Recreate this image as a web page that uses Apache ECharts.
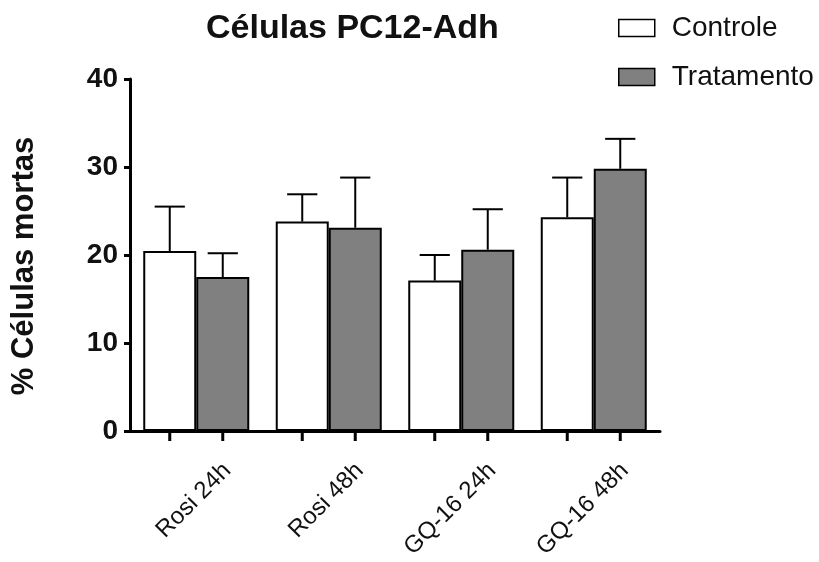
<!DOCTYPE html>
<html>
<head>
<meta charset="utf-8">
<script src="https://cdn.jsdelivr.net/npm/echarts@6/dist/echarts.min.js"></script>
<style>html,body{margin:0;padding:0;background:#fff}#c{width:819px;height:562px}</style>
</head>
<body>
<div id="c"></div>
<script>
var categories = ['Rosi 24h', 'Rosi 48h', 'GQ-16 24h', 'GQ-16 48h'];
var seriesNames = ['Controle', 'Tratamento'];
var controleMean = [20.45, 23.8, 17.1, 24.3];
var controleTop = [25.5, 26.9, 20.0, 28.8];
var tratamentoMean = [17.5, 23.1, 20.6, 29.8];
var tratamentoTop = [20.2, 28.8, 25.2, 33.2];
var yTicks = [0, 10, 20, 30, 40];

var FONT = '"Liberation Sans", Arial, sans-serif';
var GAP = 0.2;

var errData = [];
for (var i = 0; i < categories.length; i++) {
  errData.push([i, controleMean[i], controleTop[i], 0]);
  errData.push([i, tratamentoMean[i], tratamentoTop[i], 1]);
}

function renderErr(params, api) {
  var cat = api.value(0), mean = api.value(1), top = api.value(2), s = api.value(3);
  var band = api.size([1, 0])[0];
  var barW = band * (1 - GAP) / 2;
  var cx = api.coord([cat, 0])[0] + (s === 0 ? -barW / 2 : barW / 2);
  var y0 = api.coord([cat, 0])[1];
  var yM = api.coord([cat, mean])[1];
  var yT = api.coord([cat, top])[1];
  var cap = barW * 0.57;
  var st = {stroke: '#000', lineWidth: 2};
  return {
    type: 'group',
    children: [
      {type: 'line', shape: {x1: cx, y1: yM, x2: cx, y2: yT}, style: st},
      {type: 'line', shape: {x1: cx - cap / 2, y1: yT, x2: cx + cap / 2, y2: yT}, style: st},
      {type: 'line', shape: {x1: cx, y1: y0, x2: cx, y2: y0 + 10}, style: {stroke: '#000', lineWidth: 3}}
    ]
  };
}

var chart = echarts.init(document.getElementById('c'), null, {renderer: 'canvas'});
chart.setOption({
  animation: false,
  backgroundColor: '#fff',
  title: {
    text: 'Células PC12-Adh',
    left: 201, top: 7,
    textStyle: {fontFamily: FONT, fontSize: 34, fontWeight: 'bold', color: '#111'}
  },
  legend: {
    orient: 'vertical',
    left: 613, top: 9,
    icon: 'rect',
    itemWidth: 36, itemHeight: 17, itemGap: 21,
    data: seriesNames,
    textStyle: {fontFamily: FONT, fontSize: 28, color: '#111', padding: [0, 0, 0, 12]},
    itemStyle: {borderColor: '#000', borderWidth: 1.5}
  },
  grid: [
    {left: 130, right: 159, top: 79, bottom: 131, outerBoundsMode: 'none', containLabel: false},
    {left: 161, right: 128, top: 79, bottom: 131, outerBoundsMode: 'none', containLabel: false}
  ],
  xAxis: [
    {
      type: 'category', gridIndex: 0, data: categories,
      axisLine: {lineStyle: {color: '#000', width: 3}},
      axisTick: {show: false},
      axisLabel: {show: false}
    },
    {
      type: 'category', gridIndex: 1, data: categories,
      axisLine: {show: false},
      axisTick: {show: false},
      axisLabel: {rotate: 45, margin: 36, fontFamily: FONT, fontSize: 24, color: '#111', interval: 0}
    }
  ],
  yAxis: [
    {
      type: 'value', gridIndex: 0, min: 0, max: 40, interval: 10,
      name: '% Células mortas', nameLocation: 'middle', nameGap: 90,
      nameTextStyle: {fontFamily: FONT, fontSize: 31, fontWeight: 'bold', color: '#111', padding: [0, 22, 0, 0]},
      axisLine: {show: true, lineStyle: {color: '#000', width: 3}},
      axisTick: {show: true, length: 6, lineStyle: {color: '#000', width: 3}},
      axisLabel: {margin: 12, fontFamily: FONT, fontSize: 28, fontWeight: 'bold', color: '#111',
        formatter: function (v) { return yTicks.indexOf(v) >= 0 ? String(v) : ''; }},
      splitLine: {show: false}
    },
    {type: 'value', gridIndex: 1, min: 0, max: 40, show: false}
  ],
  series: [
    {
      name: 'Controle', type: 'bar', xAxisIndex: 0, yAxisIndex: 0,
      data: controleMean, barGap: '0%', barCategoryGap: '20%',
      itemStyle: {color: '#ffffff', borderColor: '#000', borderWidth: 2}
    },
    {
      name: 'Tratamento', type: 'bar', xAxisIndex: 0, yAxisIndex: 0,
      data: tratamentoMean, barGap: '0%', barCategoryGap: '20%',
      itemStyle: {color: '#808080', borderColor: '#000', borderWidth: 2}
    },
    {
      type: 'custom', xAxisIndex: 0, yAxisIndex: 0, data: errData,
      renderItem: renderErr, z: 5, clip: false, silent: true
    }
  ]
});
</script>
</body>
</html>
